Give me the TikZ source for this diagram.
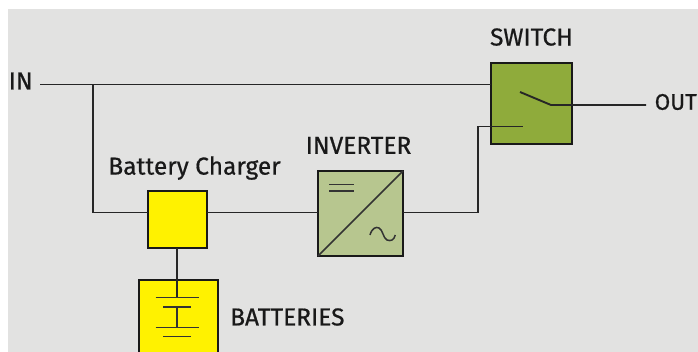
\documentclass[tikz,border=0pt]{standalone}
\usepackage{fontspec}
\setmainfont{Fira Sans}
\usepackage{xcolor}
\usetikzlibrary{positioning}
\definecolor{panelgray}{HTML}{E2E2E1}
\definecolor{switchgreen}{HTML}{8FAB3B}
\definecolor{invgreen}{HTML}{B7C68F}
\definecolor{chargeyellow}{HTML}{FFF200}

\begin{document}
\begin{tikzpicture}[
  x=1pt, y=1pt,
  unit/.style={rectangle, draw=black!90, line width=2.8pt, outer sep=0pt, inner sep=0pt},
  wire/.style={line width=1.9pt, black!85},
  symb/.style={line width=1.5pt, black!80},
  label/.style={font=\fontsize{24.5}{26}\selectfont\addfontfeature{FakeBold=0.6}, text=black!90, inner sep=0pt}
]
\clip (0,0) rectangle (698,-352);
\fill[panelgray] (8,-9) rectangle (698,-352);

\node[unit, fill=chargeyellow, minimum width=59pt, minimum height=57pt] (charger) at (177.5,-219.5) {};
\node[unit, fill=invgreen, minimum size=85pt, right=111pt of charger, yshift=6pt] (inv) {};
\node[unit, fill=switchgreen, minimum size=81pt, right=88pt of inv, yshift=110pt] (switch) {};
\node[unit, fill=chargeyellow, minimum width=79pt, minimum height=80pt, below=32pt of charger, xshift=1pt] (batt) {};

\node[label, above=17pt of switch] (switchlab) {SWITCH};
\node[label, above=17pt of inv, xshift=-2pt] (invlab) {INVERTER};
\node[label, above=11pt of charger, xshift=17pt] (chargerlab) {Battery Charger};
\node[label, right=12pt of batt, yshift=3pt] (battlab) {BATTERIES};

\coordinate (linein) at (40,-84.5);
\coordinate (tee) at (93,-84.5);
\coordinate (chargerin) at (148,-212.5);
\coordinate (chargerout) at (207,-212.5);
\coordinate (invin) at (318,-212.5);
\coordinate (invout) at (403,-212.5);
\coordinate (bend) at (478,-212.5);
\coordinate (pole) at (523,-126.5);
\coordinate (blade) at (520,-92);
\coordinate (contact) at (551,-105);
\coordinate (lineout) at (646,-105);
\coordinate (cellone) at (177,-297.3);

\node[label, anchor=west] (in) at (8.5,-81) {IN};
\node[label, anchor=east, font=\fontsize{22.5}{24}\selectfont\addfontfeature{FakeBold=0.6}] (out) at (697,-102) {OUT};

\draw[wire] (linein) -- (switch.west |- linein);
\draw[wire] (tee) |- (chargerin);
\draw[wire] (chargerout) -- (invin);
\draw[wire] (invout) -- (bend) |- (pole);
\draw[wire] (blade) -- (contact) -- (lineout);
\draw[wire] (charger.south -| cellone) -- (cellone);

% inverter symbol
\draw[symb] (inv.south west) -- (inv.north east);
\draw[symb] (329,-184.3) -- (354,-184.3);
\draw[symb] (329,-191) -- (354,-191);
\draw[symb] (370,-235) .. controls (372,-228) and (376,-226.5) .. (379,-228)
  .. controls (383,-230) and (383,-238) .. (387,-240)
  .. controls (391,-241.5) and (394,-240) .. (395.3,-235);

% cells
\draw[symb] (155.7,-297.3) -- (199,-297.3);
\draw[symb] (163.3,-307) -- (191,-307);
\draw[symb] (177,-307) -- (177,-327.3);
\draw[symb] (155.7,-327.3) -- (199,-327.3);
\draw[symb] (163.3,-336.7) -- (191,-336.7);
\end{tikzpicture}
\end{document}
